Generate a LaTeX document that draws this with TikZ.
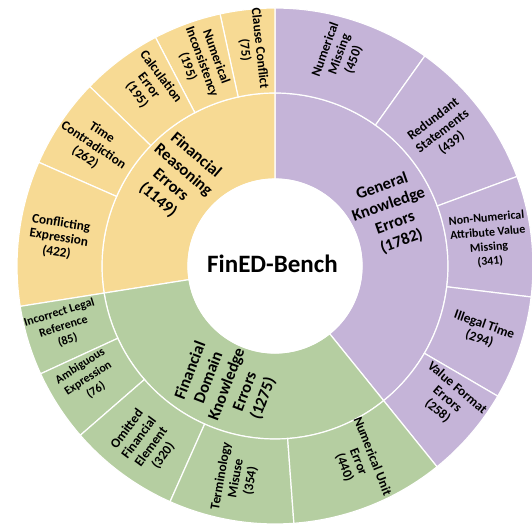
\documentclass[tikz,border=0pt]{standalone}
\usepackage{fontspec}
\setmainfont{Carlito}
\definecolor{purpleC}{HTML}{C5B4D8}
\definecolor{yellowC}{HTML}{F7DA94}
\definecolor{greenC}{HTML}{B5CEA1}
\newcommand\annsec[5]{\fill[#1,draw=white,line width=1.2pt] (#4:#2) arc[start angle=#4,end angle=#5,radius=#2] -- (#5:#3) arc[start angle=#5,end angle=#4,radius=#3] -- cycle;}
\tikzset{
  outlbl/.style={align=center,inner sep=0pt,font=\bfseries\fontsize{13.3}{15}\selectfont},
  smlbl/.style={align=center,inner sep=0pt,font=\bfseries\fontsize{12}{14.5}\selectfont},
  midlbl/.style={align=center,inner sep=0pt,font=\bfseries\fontsize{16.5}{19.5}\selectfont},
  ctrlbl/.style={inner sep=0pt,font=\bfseries\fontsize{25}{28}\selectfont}
}
\begin{document}
\begin{tikzpicture}
\useasboundingbox (-275pt,-258pt) rectangle (257pt,266pt);
\clip (-275pt,-258pt) rectangle (257pt,266pt);
\fill[white] (-275pt,-258pt) rectangle (257pt,266pt);
% middle ring
\annsec{purpleC}{87pt}{173pt}{-51.1}{90}
\annsec{yellowC}{87pt}{173pt}{90}{189}
\annsec{greenC}{87pt}{173pt}{189}{308.9}
% outer ring: general
\annsec{purpleC}{173pt}{258pt}{54.5}{90}
\annsec{purpleC}{173pt}{258pt}{20.3}{54.5}
\annsec{purpleC}{173pt}{258pt}{-6.9}{20.3}
\annsec{purpleC}{173pt}{258pt}{-30.3}{-6.9}
\annsec{purpleC}{173pt}{258pt}{-51.1}{-30.3}
% outer ring: reasoning
\annsec{yellowC}{173pt}{258pt}{90}{102.3}
\annsec{yellowC}{173pt}{258pt}{102.3}{117.6}
\annsec{yellowC}{173pt}{258pt}{117.6}{135.9}
\annsec{yellowC}{173pt}{258pt}{135.9}{156.3}
\annsec{yellowC}{173pt}{258pt}{156.3}{189}
% outer ring: domain
\annsec{greenC}{173pt}{258pt}{189}{204.7}
\annsec{greenC}{173pt}{258pt}{204.7}{221}
\annsec{greenC}{173pt}{258pt}{221}{246}
\annsec{greenC}{173pt}{258pt}{246}{274.2}
\annsec{greenC}{173pt}{258pt}{274.2}{308.9}
\fill[white] (0,0) circle[radius=87.5pt];
% centre
\node[ctrlbl] (center) at (-2.5pt,2pt) {FinED-Bench};
% middle labels
\node[midlbl,rotate=19.5] (general) at (24:128pt) {General\\Knowledge\\Errors\\(1782)};
\node[midlbl,rotate=-40.5] (reasoning) at (138:132pt) {Financial\\Reasoning\\Errors\\(1149)};
\node[midlbl,rotate=69] (domain) at (248:128pt) {Financial\\Domain\\Knowledge\\Errors\\(1275)};
% outer labels: general
\node[outlbl,rotate=70] (nummiss) at (73:221pt) {Numerical\\Missing\\(450)};
\node[outlbl,rotate=37.4] (redund) at (38.8:215pt) {Redundant\\Statements\\(439)};
\node[smlbl,rotate=5] (nonnum) at (6.9:215pt) {Non-Numerical\\Attribute Value\\Missing\\(341)};
\node[outlbl,rotate=-19.5] (illegal) at (-17.7:217pt) {Illegal Time\\(294)};
\node[outlbl,rotate=-40.7] (valfmt) at (-37.8:218pt) {Value Format\\Errors\\(258)};
% outer labels: domain
\node[outlbl,rotate=-68.4] (numunit) at (293:213pt) {Numerical Unit\\Error\\(440)};
\node[outlbl,rotate=80.1] (termin) at (259.6:216pt) {Terminology\\Misuse\\(354)};
\node[outlbl,rotate=53.5] (omitted) at (233.7:219pt) {Omitted\\Financial\\Element\\(320)};
\node[smlbl,rotate=32.9] (ambig) at (211:218pt) {Ambiguous\\Expression\\(76)};
\node[smlbl,rotate=17] (legal) at (196:220pt) {Incorrect Legal\\Reference\\(85)};
% outer labels: reasoning
\node[outlbl,rotate=-9] (conflict) at (172.6:218pt) {Conflicting\\Expression\\(422)};
\node[outlbl,rotate=-33.9] (timecon) at (146.4:218pt) {Time\\Contradiction\\(262)};
\node[outlbl,rotate=-53.2] (calc) at (125:220pt) {Calculation\\Error\\(195)};
\node[outlbl,rotate=-70] (numinc) at (109.7:217pt) {Numerical\\Inconsistency\\(195)};
\node[outlbl,rotate=-83.8] (clause) at (96:218pt) {Clause Conflict\\(75)};
\end{tikzpicture}
\end{document}
